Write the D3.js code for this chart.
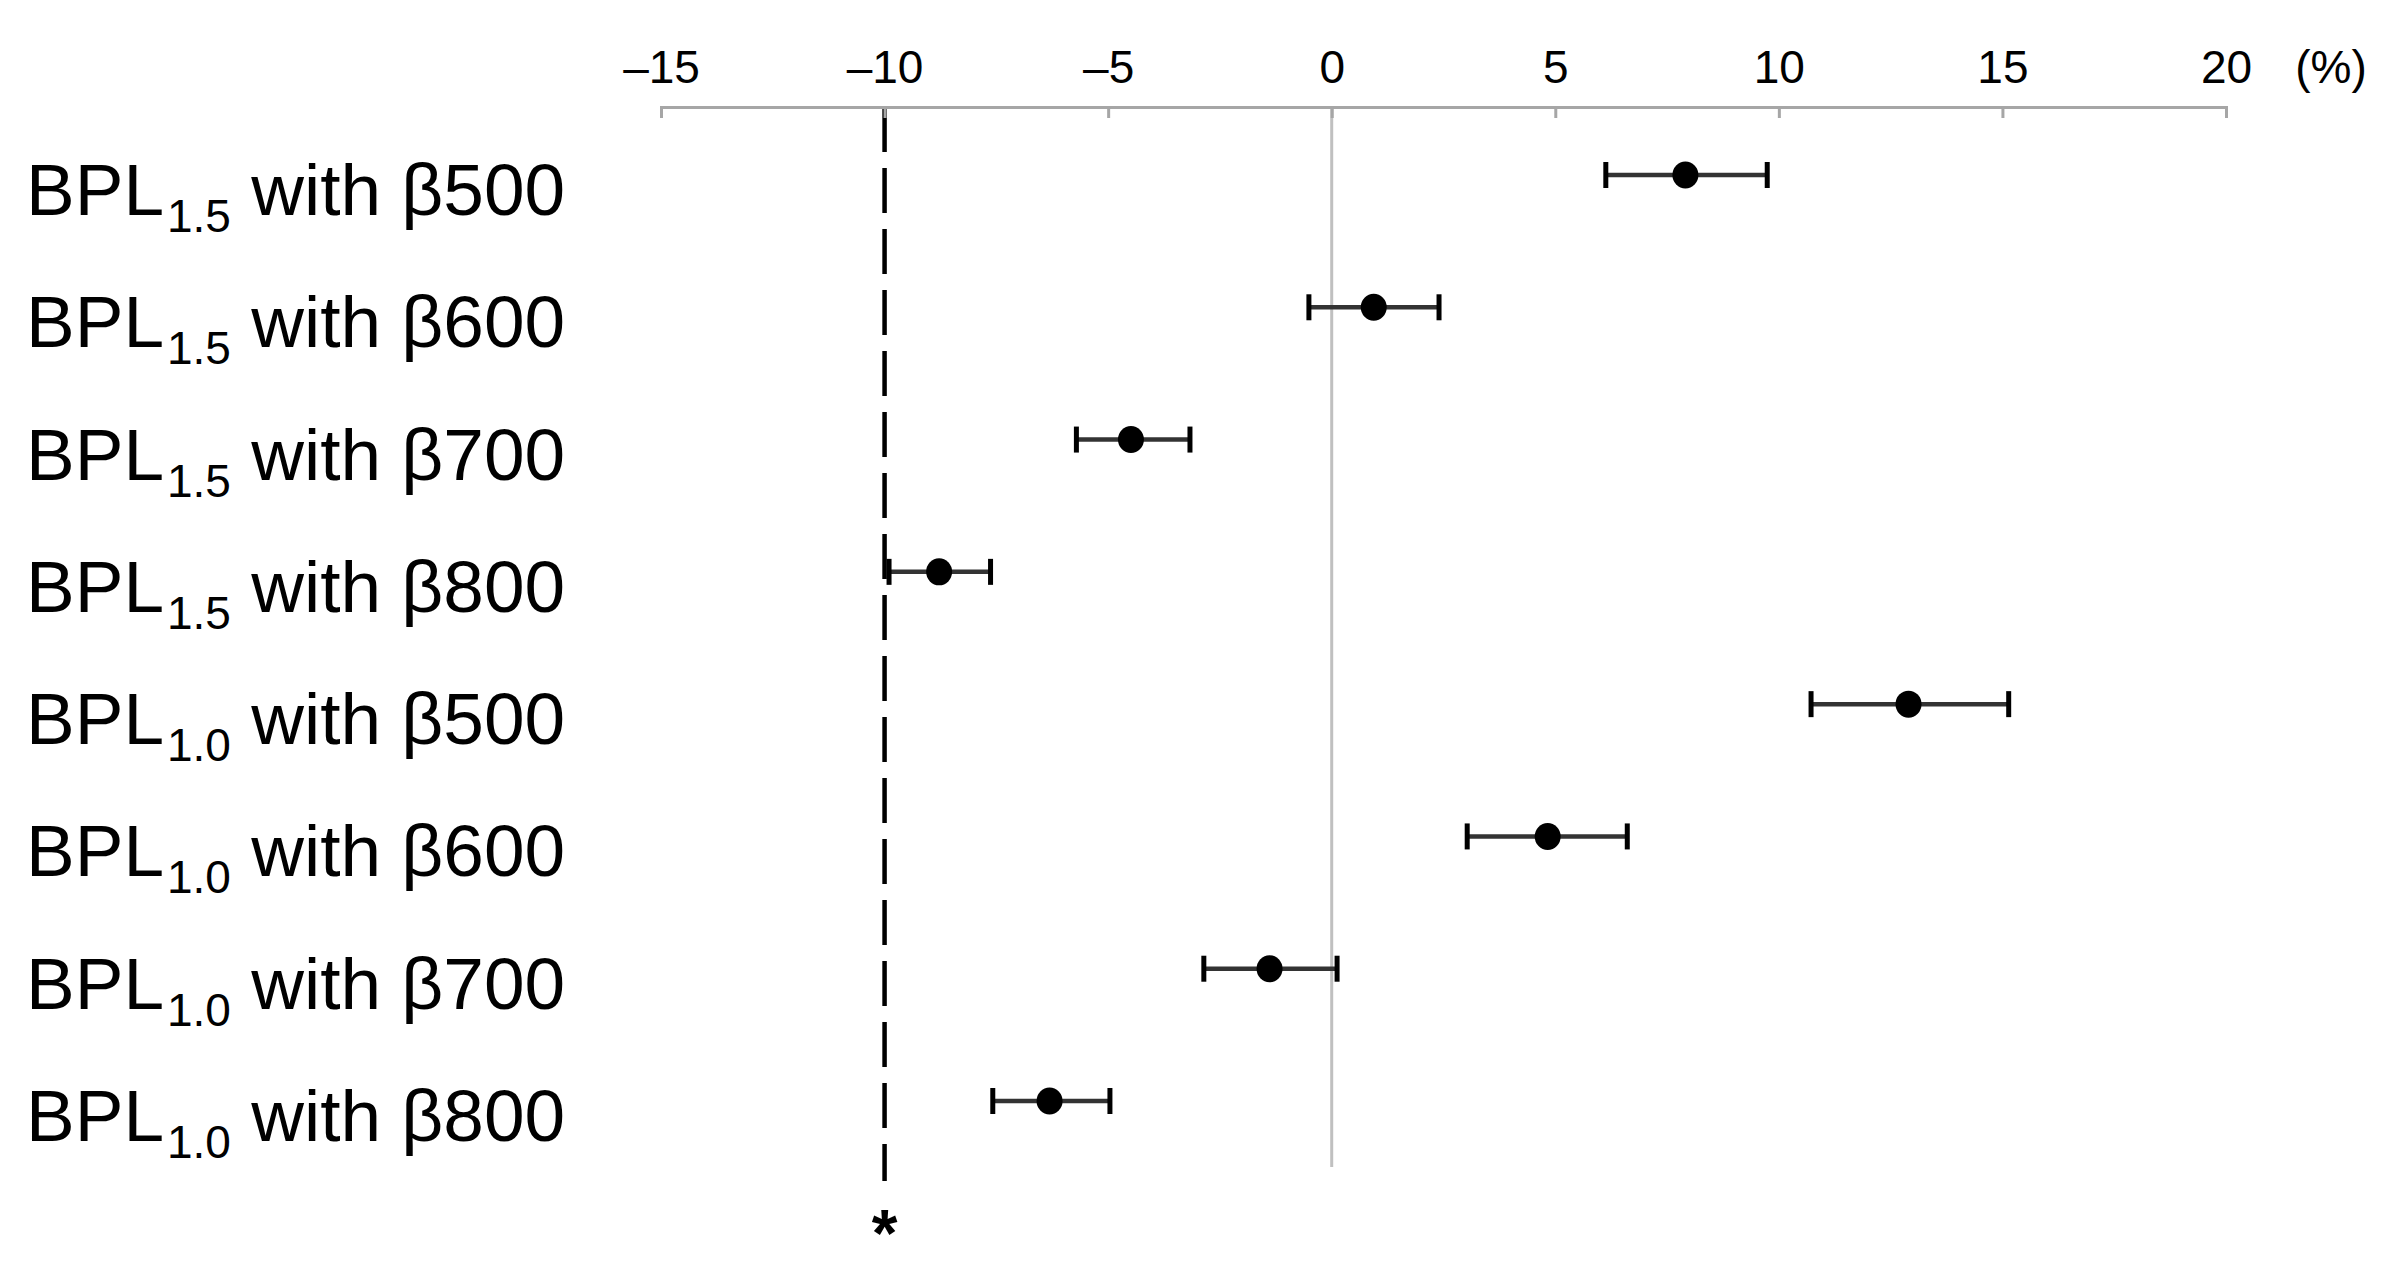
<!DOCTYPE html>
<html>
<head>
<meta charset="utf-8">
<script src="https://cdn.jsdelivr.net/npm/d3@7"></script>
<style>
  body { margin: 0; background: #fff; }
  svg { display: block; }
</style>
</head>
<body>
<div class="mainDiv"></div>
<script>
// rows, top to bottom
const bplLevels = ["1.5", "1.5", "1.5", "1.5", "1.0", "1.0", "1.0", "1.0"];
const betaLevels = ["500", "600", "700", "800", "500", "600", "700", "800"];
// change in % : point estimate and error bar ends
const estimates = [7.91, 0.94, -4.49, -8.78, 12.90, 4.83, -1.39, -6.31];
const lowerEnds = [6.13, -0.51, -5.71, -9.90, 10.72, 3.03, -2.86, -7.58];
const upperEnds = [9.74, 2.40, -3.17, -7.63, 15.14, 6.61, 0.12, -4.96];
const tickValues = [-15, -10, -5, 0, 5, 10, 15, 20];
const refValue = -10;

const width = 2387, height = 1271;

const data = bplLevels.map((b, i) => ({
  id: i,
  bpl: b,
  beta: betaLevels[i],
  est: estimates[i],
  lo: lowerEnds[i],
  hi: upperEnds[i]
}));

const svg = d3.select('.mainDiv').append('svg')
  .attr('width', width).attr('height', height);

const x = d3.scaleLinear()
  .domain([-15, 20])
  .range([661, 2226]);

const y = d3.scalePoint()
  .domain(data.map(d => d.id))
  .range([175, 1101]);

const axisY = 107;

// zero line
svg.append('line')
  .attr('x1', x(0)).attr('x2', x(0))
  .attr('y1', axisY).attr('y2', 1167)
  .attr('stroke', '#c0c0c0')
  .attr('stroke-width', 3);

// reference dashed line + significance mark
svg.append('line')
  .attr('x1', x(refValue)).attr('x2', x(refValue))
  .attr('y1', axisY).attr('y2', 1181)
  .attr('stroke', '#000')
  .attr('stroke-width', 4.5)
  .attr('stroke-dasharray', '45,16');

svg.append('text')
  .attr('x', x(refValue))
  .attr('y', 1256)
  .attr('text-anchor', 'middle')
  .attr('font-family', 'Liberation Sans, Arial, sans-serif')
  .attr('font-size', 66)
  .attr('font-weight', 'bold')
  .text('*');

// top axis
const xAxis = d3.axisTop(x)
  .tickValues(tickValues)
  .tickSizeInner(-11)
  .tickSizeOuter(-11)
  .tickPadding(24)
  .tickFormat(d => d < 0 ? '\u2013' + Math.abs(d) : d);

const gx = svg.append('g')
  .attr('transform', `translate(0,${axisY})`)
  .call(xAxis);

gx.select('.domain').attr('stroke', '#a6a6a6').attr('stroke-width', 3);
gx.selectAll('.tick line').attr('stroke', '#a6a6a6').attr('stroke-width', 3);
gx.selectAll('.tick text')
  .attr('fill', '#000')
  .attr('font-family', 'Liberation Sans Narrow, Arial Narrow, sans-serif')
  .attr('font-size', 46);

svg.append('text')
  .attr('x', 2331)
  .attr('y', axisY - 24)
  .attr('text-anchor', 'middle')
  .attr('font-family', 'Liberation Sans Narrow, Arial Narrow, sans-serif')
  .attr('font-size', 46)
  .text('(%)');

// row labels
const labels = svg.append('g').selectAll('text')
  .data(data)
  .join('text')
  .attr('x', 26)
  .attr('y', d => y(d.id) + 40)
  .attr('font-family', 'Liberation Sans, Arial, sans-serif')
  .attr('font-size', 73)
  .attr('fill', '#000');

labels.append('tspan').text('BPL');
labels.append('tspan')
  .attr('font-size', 46)
  .attr('dx', 3)
  .attr('dy', 17)
  .text(d => d.bpl);
labels.append('tspan')
  .attr('dy', -17)
  .text(d => ' with \u03b2' + d.beta);

// error bars
const rows = svg.append('g').selectAll('g')
  .data(data)
  .join('g')
  .attr('transform', d => `translate(0,${y(d.id)})`);

rows.append('line')
  .attr('x1', d => x(d.lo)).attr('x2', d => x(d.hi))
  .attr('y1', 0).attr('y2', 0)
  .attr('stroke', '#333')
  .attr('stroke-width', 4.5);

rows.append('line')
  .attr('x1', d => x(d.lo)).attr('x2', d => x(d.lo))
  .attr('y1', -13).attr('y2', 13)
  .attr('stroke', '#000')
  .attr('stroke-width', 5);

rows.append('line')
  .attr('x1', d => x(d.hi)).attr('x2', d => x(d.hi))
  .attr('y1', -13).attr('y2', 13)
  .attr('stroke', '#000')
  .attr('stroke-width', 5);

rows.append('ellipse')
  .attr('cx', d => x(d.est))
  .attr('cy', 0)
  .attr('rx', 13)
  .attr('ry', 13.5)
  .attr('fill', '#000');
</script>
</body>
</html>
